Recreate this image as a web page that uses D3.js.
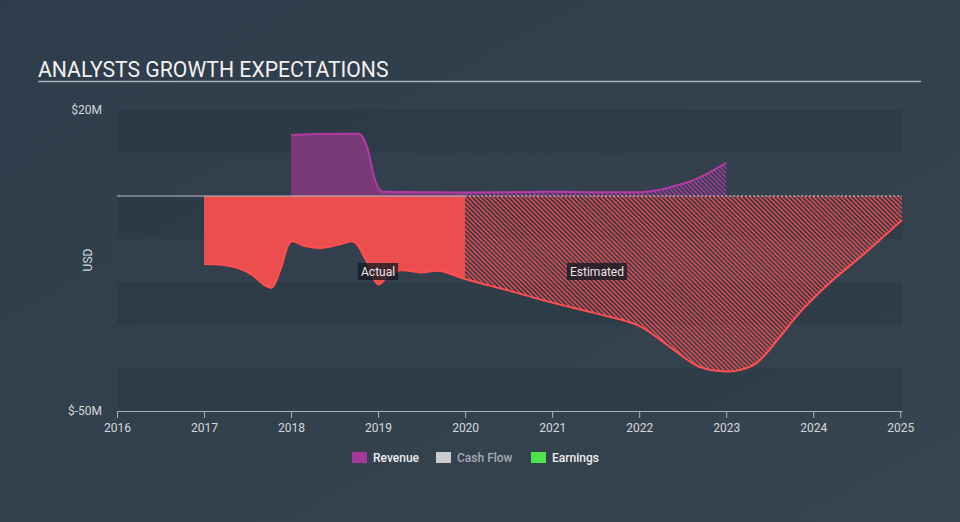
<!DOCTYPE html>
<html><head><meta charset="utf-8">
<script src="https://cdn.jsdelivr.net/npm/d3@7"></script>
<style>html,body{margin:0;padding:0;background:#344251;}svg{display:block;font-family:Roboto,"Open Sans",sans-serif;}</style>
</head><body>
<script>
const yTicks = [20, -50];
const yTickLabels = ["$20M", "$-50M"];
const xTicks = [2016, 2017, 2018, 2019, 2020, 2021, 2022, 2023, 2024, 2025];
const revenueYears  = [2018.0, 2018.3, 2018.6, 2018.78, 2018.88, 2018.96, 2019.05, 2019.5, 2020.0, 2020.5, 2021.0, 2021.5, 2022.0, 2022.2, 2022.4, 2022.6, 2022.8, 2023.0];
const revenueValues = [14.2, 14.4, 14.5, 14.5, 11.0, 4.0, 1.0, 0.9, 0.8, 0.9, 1.0, 0.9, 0.9, 1.3, 2.3, 3.5, 5.4, 7.7];
const earningsYears  = [2017.0, 2017.2, 2017.4, 2017.55, 2017.7, 2017.78, 2017.88, 2018.0, 2018.15, 2018.35, 2018.55, 2018.72, 2018.85, 2019.0, 2019.1, 2019.25, 2019.5, 2019.7, 2020.0, 2020.5, 2021.0, 2021.5, 2022.0, 2022.38, 2022.69, 2023.0, 2023.15, 2023.35, 2023.6, 2023.85, 2024.2, 2024.6, 2025.02];
const earningsValues = [-15.8, -16.0, -16.8, -18.3, -20.8, -21.3, -17.0, -10.6, -11.6, -12.1, -11.3, -10.6, -14.5, -20.6, -19.0, -17.3, -17.8, -17.4, -19.3, -22.0, -24.8, -27.3, -30.2, -35.5, -39.7, -40.8, -40.5, -38.8, -33.2, -27.0, -20.0, -13.2, -5.6];
const splitYear = 2020;
const legendItems = ["Revenue", "Cash Flow", "Earnings"];
const legendColors = ["#a3399b", "#cccccc", "#4ee44e"];

const W = 960, H = 522;
const svg = d3.select("body").append("svg").attr("width", W).attr("height", H);
const defs = svg.append("defs");
const bg = defs.append("linearGradient").attr("id","bg").attr("x1",0).attr("y1",0).attr("x2",1).attr("y2",1);
bg.append("stop").attr("offset","0%").attr("stop-color","#2f3c4b");
bg.append("stop").attr("offset","100%").attr("stop-color","#37454f");
svg.append("rect").attr("width",W).attr("height",H).attr("fill","url(#bg)");

function hatch(id, color){
  const p = defs.append("pattern").attr("id",id).attr("patternUnits","userSpaceOnUse")
    .attr("width",3.2).attr("height",3.2).attr("patternTransform","rotate(-45)");
  p.append("rect").attr("width",1.5).attr("height",3.2).attr("fill",color);
}
hatch("hatchRed", "#e8484b");
hatch("hatchPurple", "#a03a97");

const x = d3.scaleLinear().domain([2016, 2025.02]).range([117, 902]);
const y = d3.scaleLinear().domain([-50, 20]).range([411, 110]);

// bands
const bands = d3.range(20, -50, -10);
svg.append("g").selectAll("rect").data(bands).join("rect")
  .attr("x", x(2016)).attr("width", x(2025.02)-x(2016))
  .attr("y", d => y(d)).attr("height", d => y(d-10)-y(d))
  .attr("fill", (d,i) => i%2===0 ? "rgba(20,28,40,0.12)" : "rgba(60,75,90,0.06)");

// title
svg.append("text").attr("x",38).attr("y",77).attr("font-size",21.2).attr("fill","#f2f2f2").text("ANALYSTS GROWTH EXPECTATIONS");
svg.append("line").attr("x1",38).attr("x2",921).attr("y1",81.5).attr("y2",81.5).attr("stroke","#a8b0b9").attr("stroke-width",1.5);

const rev = revenueYears.map((t,i)=>({t, v: revenueValues[i]}));
const earn = earningsYears.map((t,i)=>({t, v: earningsValues[i]}));
function mkArea(c){ return d3.area().x(d=>x(d.t)).y0(y(0)).y1(d=>y(d.v)).curve(c); }
function mkLine(c){ return d3.line().x(d=>x(d.t)).y(d=>y(d.v)).curve(c); }
const revArea = mkArea(d3.curveMonotoneX), revLine = mkLine(d3.curveMonotoneX);
const eCurve = d3.curveCatmullRom.alpha(0.5);
const earnArea = mkArea(eCurve), earnLine = mkLine(eCurve);

// clip paths
defs.append("clipPath").attr("id","clipA").append("rect").attr("x",0).attr("y",0).attr("width",x(splitYear)).attr("height",H);
defs.append("clipPath").attr("id","clipE").append("rect").attr("x",x(splitYear)).attr("y",0).attr("width",W).attr("height",H);

// revenue
svg.append("path").datum(rev).attr("d",revArea).attr("fill","#7a3a78").attr("clip-path","url(#clipA)");
svg.append("path").datum(rev).attr("d",revArea).attr("fill","url(#hatchPurple)").attr("clip-path","url(#clipE)");
svg.append("path").datum(rev).attr("d",revLine).attr("fill","none").attr("stroke","#b63aa6").attr("stroke-width",2);

// earnings
svg.append("path").datum(earn).attr("d",earnArea).attr("fill","#ec4e50").attr("clip-path","url(#clipA)");
svg.append("path").datum(earn).attr("d",earnArea).attr("fill","url(#hatchRed)").attr("clip-path","url(#clipE)");
svg.append("path").datum(earn).attr("d",earnLine).attr("fill","none").attr("stroke","#ff4f4f").attr("stroke-width",2);

// zero line
svg.append("line").attr("x1",x(2016)).attr("x2",x(splitYear)).attr("y1",y(0)).attr("y2",y(0)).attr("stroke","#b9c0c8").attr("stroke-width",1.2);
svg.append("line").attr("x1",x(splitYear)).attr("x2",x(2025.02)).attr("y1",y(0)).attr("y2",y(0)).attr("stroke","#d8dce0").attr("stroke-width",1.2).attr("stroke-dasharray","2,2");

// y labels
svg.append("g").selectAll("text").data(yTicks).join("text")
  .attr("x",102).attr("y",d=>y(d)).attr("dy","0.35em").attr("text-anchor","end")
  .attr("font-size",12).attr("fill","#d4d8dd").text((d,i)=>yTickLabels[i]);
svg.append("text").attr("transform","translate(92,260) rotate(-90)").attr("text-anchor","middle")
  .attr("font-size",12).attr("fill","#d4d8dd").text("USD");

// x axis
const xa = svg.append("g").attr("transform",`translate(0,${y(-50)})`)
  .call(d3.axisBottom(x).tickValues(xTicks).tickFormat(d3.format("d")).tickSize(7).tickSizeOuter(0));
xa.select(".domain").attr("stroke","#a9b3bd");
xa.selectAll(".tick line").attr("stroke","#a9b3bd");
xa.selectAll(".tick text").attr("fill","#d4d8dd").attr("font-size",12).attr("font-family","Roboto,sans-serif").attr("dy","0.9em");

// Actual / Estimated labels
function tag(cx, cy, txt){
  const g = svg.append("g");
  const t = g.append("text").attr("x",cx).attr("y",cy).attr("dy","0.35em").attr("text-anchor","middle")
    .attr("font-size",12).attr("fill","#e8e8e8").text(txt);
  const b = t.node().getBBox();
  g.insert("rect","text").attr("x",b.x-3).attr("y",cy-8.5).attr("width",b.width+6).attr("height",17)
    .attr("fill","rgba(22,26,34,0.78)");
}
tag(x(2019), 271.5, "Actual");
tag(597, 271.5, "Estimated");

// legend
const lx = [352, 436, 531];
const lg = svg.append("g");
legendItems.forEach((n,i)=>{
  lg.append("rect").attr("x",lx[i]).attr("y",452).attr("width",15).attr("height",11).attr("fill",legendColors[i]);
  lg.append("text").attr("x",lx[i]+21).attr("y",458).attr("dy","0.35em").attr("font-size",12).attr("font-weight",500)
    .attr("fill", i===1 ? "#a4abb3" : "#eeeeee").text(n);
});
</script>
</body></html>
